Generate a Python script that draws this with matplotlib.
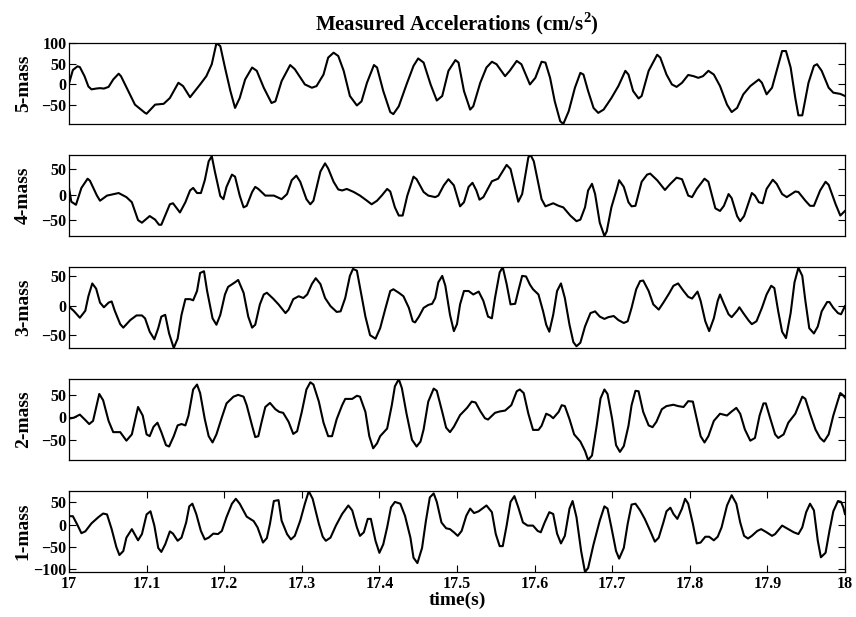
import matplotlib
matplotlib.use('Agg')
import matplotlib.pyplot as plt

# measured accelerations (cm/s^2)
t5 = [17.000, 17.005, 17.011, 17.014, 17.020, 17.025, 17.029, 17.035, 17.040, 17.045, 17.051, 17.057, 17.064, 17.067,
      17.085, 17.098, 17.100, 17.111, 17.122, 17.130, 17.141, 17.147, 17.156, 17.169, 17.177, 17.184, 17.190, 17.195,
      17.201, 17.208, 17.214, 17.220, 17.227, 17.236, 17.242, 17.251, 17.261, 17.266, 17.274, 17.285, 17.291, 17.304,
      17.313, 17.319, 17.328, 17.334, 17.341, 17.347, 17.354, 17.362, 17.371, 17.377, 17.384, 17.393, 17.397, 17.405,
      17.414, 17.418, 17.425, 17.435, 17.444, 17.450, 17.457, 17.466, 17.474, 17.481, 17.489, 17.498, 17.502, 17.509,
      17.517, 17.521, 17.530, 17.538, 17.545, 17.551, 17.562, 17.568, 17.577, 17.583, 17.594, 17.601, 17.609, 17.614,
      17.620, 17.626, 17.633, 17.637, 17.644, 17.652, 17.659, 17.663, 17.669, 17.676, 17.682, 17.689, 17.699, 17.708,
      17.717, 17.721, 17.727, 17.734, 17.738, 17.747, 17.758, 17.762, 17.770, 17.777, 17.783, 17.790, 17.798, 17.805,
      17.811, 17.817, 17.824, 17.831, 17.839, 17.848, 17.854, 17.861, 17.869, 17.878, 17.889, 17.893, 17.899, 17.906,
      17.912, 17.919, 17.924, 17.930, 17.936, 17.940, 17.945, 17.953, 17.960, 17.964, 17.970, 17.979, 17.985, 17.994,
      18.000]
a5 = [2, 35, 44, 42, 20, -5, -12, -10, -9, -10, -6, 12, 26, 20,
      -49, -69, -71, -49, -47, -33, 4, -4, -31, 0, 20, 49, 100, 93,
      41, -16, -57, -33, 12, 41, 33, -8, -45, -41, 8, 47, 37, 0,
      -8, -4, 24, 65, 77, 69, 33, -28, -51, -41, 4, 47, 41, -16,
      -67, -72, -53, 0, 45, 63, 53, 0, -39, -28, 33, 59, 53, -16,
      -61, -53, 4, 41, 55, 49, 20, 33, 57, 49, 0, 16, 55, 53,
      16, -41, -89, -96, -65, -8, 28, 24, -16, -57, -69, -61, -33, -4,
      33, 24, -16, -34, -28, 33, 72, 65, 24, 0, -6, 4, 23, 20,
      16, 20, 33, 24, -4, -49, -67, -57, -24, -4, 12, 4, -24, -8,
      33, 81, 81, 41, -33, -75, -75, 4, 45, 49, 33, -8, -20, -23,
      -28]

t4 = [17.000, 17.003, 17.009, 17.016, 17.024, 17.027, 17.036, 17.040, 17.049, 17.064, 17.074, 17.081, 17.089, 17.094,
      17.104, 17.111, 17.116, 17.119, 17.130, 17.134, 17.143, 17.150, 17.156, 17.160, 17.165, 17.170, 17.175, 17.180,
      17.184, 17.188, 17.195, 17.199, 17.203, 17.210, 17.214, 17.220, 17.225, 17.229, 17.236, 17.240, 17.244, 17.253,
      17.264, 17.274, 17.281, 17.287, 17.293, 17.298, 17.306, 17.311, 17.315, 17.324, 17.330, 17.334, 17.341, 17.347,
      17.352, 17.358, 17.367, 17.375, 17.384, 17.390, 17.397, 17.403, 17.410, 17.414, 17.420, 17.425, 17.430, 17.436,
      17.444, 17.448, 17.457, 17.463, 17.472, 17.476, 17.483, 17.489, 17.496, 17.504, 17.509, 17.515, 17.520, 17.525,
      17.529, 17.534, 17.545, 17.553, 17.564, 17.569, 17.579, 17.584, 17.592, 17.595, 17.599, 17.609, 17.614, 17.624,
      17.631, 17.637, 17.646, 17.654, 17.659, 17.665, 17.669, 17.674, 17.678, 17.684, 17.690, 17.693, 17.699, 17.706,
      17.709, 17.715, 17.721, 17.725, 17.730, 17.738, 17.745, 17.749, 17.758, 17.768, 17.775, 17.783, 17.790, 17.798,
      17.803, 17.809, 17.819, 17.824, 17.833, 17.839, 17.844, 17.850, 17.854, 17.861, 17.865, 17.870, 17.876, 17.880,
      17.884, 17.889, 17.894, 17.899, 17.907, 17.912, 17.919, 17.925, 17.936, 17.940, 17.949, 17.955, 17.960, 17.968,
      17.975, 17.979, 17.988, 17.994, 18.000]
a4 = [13, -14, -20, 13, 31, 27, -2, -12, -2, 3, -5, -15, -50, -55,
      -42, -49, -59, -59, -19, -17, -35, -15, 8, 13, 3, 3, 28, 65,
      75, 45, -3, -9, 15, 39, 35, -2, -25, -22, 5, 15, 11, -2,
      -2, -9, 1, 28, 37, 25, -9, -19, -12, 45, 61, 51, 25, 10,
      8, 11, 5, -2, -12, -19, -12, -2, 11, 6, -25, -41, -41, -2,
      35, 30, 5, -2, -5, -2, 18, 30, 18, -23, -15, 15, 23, 8,
      -10, -5, 26, 31, 58, 50, -14, 1, 73, 77, 65, -9, -23, -17,
      -22, -25, -41, -52, -49, -25, 8, 21, 1, -55, -81, -72, -25, 11,
      28, 15, -15, -23, -22, 25, 39, 41, 28, 9, 21, 33, 30, -2,
      -5, 11, 31, 25, -27, -32, -22, 1, -7, -42, -52, -42, -15, 3,
      -2, -15, -17, 11, 29, 21, 1, -5, 6, 5, -12, -22, -22, 8,
      25, 19, -19, -41, -32]

t3 = [17.000, 17.006, 17.014, 17.021, 17.025, 17.030, 17.035, 17.040, 17.045, 17.051, 17.055, 17.059, 17.066, 17.070,
      17.079, 17.087, 17.094, 17.098, 17.104, 17.110, 17.115, 17.119, 17.124, 17.129, 17.135, 17.140, 17.145, 17.150,
      17.156, 17.160, 17.165, 17.169, 17.174, 17.178, 17.185, 17.190, 17.195, 17.201, 17.205, 17.214, 17.218, 17.225,
      17.231, 17.236, 17.240, 17.246, 17.251, 17.255, 17.263, 17.270, 17.279, 17.283, 17.289, 17.296, 17.302, 17.307,
      17.313, 17.318, 17.324, 17.330, 17.337, 17.345, 17.350, 17.356, 17.362, 17.366, 17.371, 17.375, 17.382, 17.388,
      17.395, 17.401, 17.408, 17.414, 17.418, 17.425, 17.431, 17.438, 17.443, 17.446, 17.451, 17.457, 17.463, 17.468,
      17.472, 17.476, 17.481, 17.485, 17.491, 17.496, 17.500, 17.504, 17.509, 17.515, 17.521, 17.528, 17.534, 17.540,
      17.545, 17.549, 17.555, 17.559, 17.564, 17.569, 17.575, 17.579, 17.584, 17.589, 17.594, 17.598, 17.605, 17.611,
      17.615, 17.619, 17.624, 17.629, 17.634, 17.639, 17.645, 17.650, 17.654, 17.659, 17.665, 17.672, 17.678, 17.684,
      17.690, 17.695, 17.702, 17.708, 17.715, 17.720, 17.725, 17.731, 17.736, 17.740, 17.747, 17.753, 17.760, 17.766,
      17.773, 17.779, 17.785, 17.792, 17.798, 17.803, 17.810, 17.814, 17.820, 17.825, 17.831, 17.836, 17.839, 17.844,
      17.850, 17.854, 17.861, 17.864, 17.869, 17.876, 17.880, 17.886, 17.893, 17.899, 17.905, 17.909, 17.914, 17.919,
      17.924, 17.930, 17.935, 17.940, 17.945, 17.949, 17.954, 17.960, 17.965, 17.970, 17.977, 17.980, 17.985, 17.991,
      17.995, 18.000]
a3 = [-2, -9, -21, -9, 16, 38, 29, 5, -3, 5, 7, -9, -32, -38,
      -25, -17, -17, -22, -45, -58, -39, -19, -16, -48, -73, -57, -16, 11,
      11, 9, 25, 56, 59, 25, -22, -33, -16, 19, 32, 40, 44, 22,
      -19, -38, -33, 2, 19, 22, 12, 2, -13, -7, 11, 16, 13, 19,
      37, 47, 37, 13, -1, -11, -10, 13, 51, 63, 60, 31, -19, -51,
      -57, -39, -4, 25, 28, 22, 16, -4, -27, -29, -19, -4, 1, 3,
      13, 40, 51, 34, -16, -44, -32, 2, 25, 25, 19, 24, 8, -19,
      -22, 13, 57, 66, 37, 2, 3, 25, 51, 50, 36, 28, 19, -10,
      -33, -45, -16, 25, 38, 13, -33, -63, -70, -64, -36, -13, -10, -19,
      -23, -20, -18, -25, -30, -27, -4, 28, 42, 43, 25, 2, -7, 5,
      20, 34, 38, 25, 15, 12, 24, 8, -27, -44, -22, 8, 19, 3,
      -15, -20, -9, -3, -13, -26, -32, -27, -4, 19, 34, 30, -10, -45,
      -56, -13, 40, 65, 51, 8, -39, -48, -36, -10, 6, 6, -4, -13,
      -15, -1]

t2 = [17.000, 17.006, 17.014, 17.021, 17.026, 17.031, 17.039, 17.044, 17.051, 17.057, 17.061, 17.066, 17.074, 17.081,
      17.089, 17.095, 17.100, 17.104, 17.109, 17.114, 17.119, 17.125, 17.129, 17.135, 17.140, 17.145, 17.150, 17.154,
      17.160, 17.165, 17.169, 17.175, 17.180, 17.185, 17.190, 17.197, 17.203, 17.212, 17.218, 17.225, 17.229, 17.236,
      17.240, 17.244, 17.248, 17.253, 17.259, 17.266, 17.271, 17.276, 17.283, 17.289, 17.294, 17.300, 17.306, 17.311,
      17.315, 17.322, 17.328, 17.334, 17.339, 17.345, 17.352, 17.356, 17.365, 17.371, 17.375, 17.382, 17.387, 17.392,
      17.397, 17.401, 17.410, 17.416, 17.420, 17.425, 17.429, 17.435, 17.442, 17.448, 17.453, 17.457, 17.463, 17.470,
      17.474, 17.481, 17.486, 17.491, 17.496, 17.504, 17.513, 17.519, 17.524, 17.530, 17.536, 17.540, 17.549, 17.555,
      17.562, 17.570, 17.577, 17.581, 17.586, 17.592, 17.598, 17.605, 17.609, 17.615, 17.620, 17.624, 17.631, 17.635,
      17.639, 17.645, 17.651, 17.659, 17.665, 17.669, 17.674, 17.680, 17.685, 17.690, 17.694, 17.700, 17.705, 17.710,
      17.715, 17.721, 17.725, 17.730, 17.734, 17.740, 17.747, 17.752, 17.757, 17.764, 17.770, 17.779, 17.785, 17.792,
      17.798, 17.804, 17.809, 17.814, 17.819, 17.824, 17.831, 17.839, 17.848, 17.854, 17.860, 17.865, 17.871, 17.878,
      17.884, 17.890, 17.895, 17.898, 17.904, 17.910, 17.914, 17.921, 17.927, 17.936, 17.945, 17.949, 17.955, 17.962,
      17.968, 17.973, 17.979, 17.985, 17.991, 17.994, 17.997, 18.000]
a2 = [-3, -1, 6, -6, -15, -8, 52, 38, -8, -33, -33, -33, -52, -38,
      23, 4, -38, -42, -21, -12, -33, -62, -65, -42, -18, -15, -18, 4,
      62, 73, 54, -4, -42, -56, -38, 0, 31, 46, 50, 46, 27, -19,
      -44, -42, -12, 23, 32, 18, 12, 10, -10, -37, -31, 12, 62, 78,
      73, 35, -12, -42, -42, -4, 27, 41, 41, 48, 46, 12, -42, -69,
      -58, -42, -25, 27, 69, 85, 65, 8, -50, -65, -54, -27, 35, 64,
      59, 12, -23, -33, -21, 5, 21, 35, 33, 14, -2, -5, 10, 13,
      15, 27, 58, 62, 54, 8, -28, -28, -19, 8, 4, -2, 12, 27,
      25, -4, -38, -54, -75, -95, -85, -19, 42, 62, 52, -4, -62, -77,
      -64, -19, 27, 59, 58, 12, -18, -22, -10, 18, 25, 28, 25, 23,
      36, 35, -4, -42, -56, -42, -8, 8, 4, 13, 21, 8, -27, -52,
      -46, 4, 31, 31, -4, -38, -46, -38, -12, 8, 46, 41, 8, -27,
      -46, -54, -38, 4, 38, 54, 50, 44]

t1 = [17.000, 17.005, 17.011, 17.016, 17.021, 17.029, 17.038, 17.044, 17.049, 17.055, 17.061, 17.065, 17.070, 17.074,
      17.081, 17.089, 17.094, 17.100, 17.105, 17.110, 17.115, 17.119, 17.124, 17.130, 17.134, 17.140, 17.145, 17.151,
      17.155, 17.159, 17.164, 17.170, 17.175, 17.180, 17.186, 17.192, 17.197, 17.203, 17.210, 17.215, 17.220, 17.229,
      17.238, 17.243, 17.250, 17.255, 17.259, 17.264, 17.270, 17.274, 17.281, 17.286, 17.291, 17.298, 17.304, 17.309,
      17.314, 17.322, 17.327, 17.331, 17.337, 17.344, 17.352, 17.360, 17.365, 17.371, 17.375, 17.380, 17.385, 17.389,
      17.395, 17.400, 17.405, 17.410, 17.415, 17.420, 17.427, 17.433, 17.440, 17.444, 17.449, 17.455, 17.460, 17.465,
      17.470, 17.474, 17.480, 17.486, 17.491, 17.496, 17.501, 17.506, 17.512, 17.517, 17.522, 17.528, 17.538, 17.545,
      17.550, 17.555, 17.559, 17.564, 17.569, 17.574, 17.579, 17.585, 17.591, 17.598, 17.604, 17.608, 17.613, 17.619,
      17.624, 17.629, 17.634, 17.639, 17.645, 17.649, 17.654, 17.660, 17.665, 17.669, 17.676, 17.684, 17.690, 17.694,
      17.699, 17.705, 17.709, 17.715, 17.720, 17.725, 17.730, 17.736, 17.742, 17.749, 17.755, 17.760, 17.766, 17.770,
      17.775, 17.779, 17.784, 17.790, 17.794, 17.798, 17.804, 17.809, 17.814, 17.820, 17.825, 17.831, 17.836, 17.841,
      17.848, 17.854, 17.860, 17.865, 17.870, 17.875, 17.880, 17.887, 17.892, 17.899, 17.906, 17.910, 17.919, 17.925,
      17.934, 17.940, 17.945, 17.950, 17.955, 17.960, 17.965, 17.969, 17.975, 17.980, 17.985, 17.991, 17.995, 17.998,
      18.000]
a1 = [19, 19, -1, -19, -15, 3, 17, 25, 23, -10, -50, -68, -59, -29,
      -10, -35, -21, 23, 30, -2, -52, -61, -44, -15, -20, -36, -29, 5,
      41, 47, 24, -14, -33, -29, -20, -21, -14, 17, 47, 58, 47, 18,
      8, -6, -40, -30, 2, 53, 55, 9, -21, -33, -25, 9, 47, 75,
      58, 2, -27, -36, -29, -2, 24, 43, 32, -6, -25, -17, 13, 13,
      -36, -63, -44, -6, 39, 51, 47, 20, -29, -74, -86, -52, 9, 61,
      70, 51, 5, -8, -10, -17, -25, -14, 20, 36, 26, 30, 43, 28,
      -21, -48, -48, -2, 51, 64, 39, 5, -2, -2, -14, -17, 5, 28,
      24, -20, -42, -25, 36, 53, 17, -59, -106, -97, -44, 9, 41, 36,
      -6, -59, -76, -52, 2, 45, 47, 32, 13, -14, -38, -29, 5, 30,
      38, 24, 13, 36, 58, 47, 2, -42, -40, -27, -27, -35, -27, -6,
      43, 66, 47, 5, -25, -31, -25, -14, -10, -17, -25, -21, -2, -8,
      -17, -21, -6, 28, 47, 32, -36, -73, -63, -14, 30, 53, 51, 38,
      24]

labels = ['5-mass', '4-mass', '3-mass', '2-mass', '1-mass']
yticks = [[-50, 0, 50, 100], [-50, 0, 50], [-50, 0, 50], [-50, 0, 50], [-100, -50, 0, 50]]
xticks = [17, 17.1, 17.2, 17.3, 17.4, 17.5, 17.6, 17.7, 17.8, 17.9, 18]
xticklabels = ['17', '17.1', '17.2', '17.3', '17.4', '17.5', '17.6', '17.7', '17.8', '17.9', '18']

plt.rcParams['font.family'] = ['Liberation Serif', 'DejaVu Serif']
plt.rcParams['font.weight'] = 'bold'
plt.rcParams['mathtext.fontset'] = 'custom'
plt.rcParams['mathtext.rm'] = 'Liberation Serif:bold'
plt.rcParams['mathtext.bf'] = 'Liberation Serif:bold'

series = [(t5, a5), (t4, a4), (t3, a3), (t2, a2), (t1, a1)]
bottoms = [0.799, 0.6175, 0.436, 0.2545, 0.0729]

fig = plt.figure(figsize=(8.56, 6.17), dpi=100)
axes = []
for i, (t, a) in enumerate(series):
    ax = fig.add_axes([0.0806, bottoms[i], 0.9065, 0.131])
    ax.plot(t, a, color='black', lw=1.5)
    ax.set_xlim(17, 18)
    ax.set_ylim(min(a), max(a))
    ax.set_yticks(yticks[i])
    ax.tick_params(direction='in', length=5, width=0.8, right=True, top=(i == 4),
                   labelsize=11.5, pad=1.7)
    if i < 4:
        ax.set_xticks([])
    else:
        ax.set_xticks(xticks)
        ax.set_xticklabels(xticklabels)
        ax.tick_params(axis='x', pad=3)
        ax.set_xlabel('time(s)', fontsize=14, fontweight='bold', labelpad=0)
    for s in ax.spines.values():
        s.set_linewidth(0.9)
    ax.set_ylabel(labels[i], fontsize=14, fontweight='bold')
    ax.yaxis.set_label_coords(-0.048, 0.5)
    axes.append(ax)

axes[0].set_title('Measured Accelerations (cm/s$^2$)', fontsize=15, fontweight='bold', pad=9)

fig.savefig('out.png', dpi=100)
